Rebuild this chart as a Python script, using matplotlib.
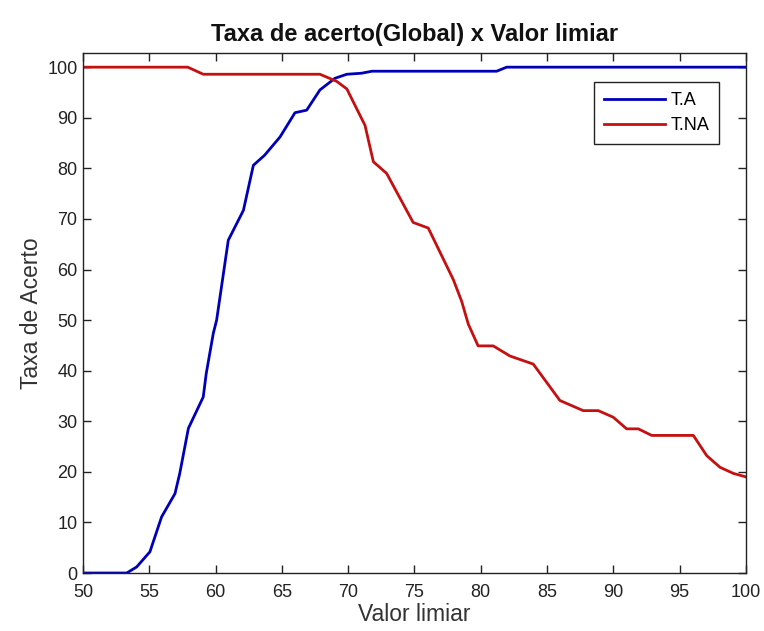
import matplotlib
matplotlib.use("Agg")
import matplotlib.pyplot as plt

plt.rcParams['font.family'] = ['Liberation Sans', 'DejaVu Sans']

# Threshold values and hit rates for the two classes
ta_x = [50, 53.3, 54.05, 55.05, 55.93, 56.94, 57.3, 57.95, 59.07, 59.3, 59.83,
        60.08, 60.96, 62.1, 62.85, 63.7, 64.86, 65.99, 66.87, 67.87, 69.0,
        69.9, 71.0, 71.8, 81.2, 81.95, 100]
ta_y = [0, 0, 1.2, 4.2, 11.1, 15.7, 19.7, 28.6, 34.8, 39.5, 47.4,
        50.0, 65.8, 71.7, 80.6, 82.6, 86.2, 91.0, 91.5, 95.5, 97.8,
        98.6, 98.8, 99.2, 99.2, 100, 100]

tna_x = [50, 57.9, 59.07, 67.87, 69.13, 69.9, 70.64, 71.27, 71.9, 72.9,
         74.9, 76.04, 77.93, 78.56, 79.06, 79.8, 80.94, 82.2, 83.96, 85.97,
         87.73, 88.86, 89.99, 91.0, 91.88, 92.89, 96.03, 97.04, 98.04,
         99.04, 100]
tna_y = [100, 100, 98.6, 98.6, 97.2, 95.7, 91.8, 88.5, 81.3, 79.0,
         69.3, 68.2, 58.0, 53.7, 49.2, 44.9, 44.9, 42.9, 41.3, 34.1,
         32.1, 32.1, 30.8, 28.5, 28.5, 27.2, 27.2, 23.2, 20.9,
         19.7, 19.0]

x_ticks = [50, 55, 60, 65, 70, 75, 80, 85, 90, 95, 100]
y_ticks = [0, 10, 20, 30, 40, 50, 60, 70, 80, 90, 100]

fig = plt.figure(figsize=(7.64, 6.31), dpi=100)
ax = fig.add_axes([0.1086, 0.0919, 0.8678, 0.8241])

ax.plot(ta_x, ta_y, color='#0000b8', lw=2.0, label='T.A')
ax.plot(tna_x, tna_y, color='#c41010', lw=2.0, label='T.NA')

ax.set_xlim(50, 100)
ax.set_ylim(0, 102.8)
ax.set_xticks(x_ticks)
ax.set_yticks(y_ticks)
ax.tick_params(direction='in', length=6, width=1, top=True, right=True,
               labelsize=13, colors='#222222')
ax.tick_params(axis='x', pad=8)
ax.tick_params(axis='y', pad=4)
for s in ax.spines.values():
    s.set_linewidth(1.0)
    s.set_color('#222222')

ax.set_xlabel('Valor limiar', fontsize=16.5, color='#333333', labelpad=1)
ax.set_ylabel('Taxa de Acerto', fontsize=16.5, color='#333333', labelpad=3)
ax.set_title('Taxa de acerto(Global) x Valor limiar', fontsize=17,
             fontweight='bold', color='#111111', pad=9)

leg = ax.legend(loc='upper right', bbox_to_anchor=(0.9595, 0.944),
                fontsize=13, fancybox=False, framealpha=1,
                edgecolor='#222222', handlelength=3.4, handletextpad=0.3,
                borderpad=0.55, labelspacing=0.45, borderaxespad=0)
leg.get_frame().set_linewidth(1.0)

fig.savefig('out.png', dpi=100)
